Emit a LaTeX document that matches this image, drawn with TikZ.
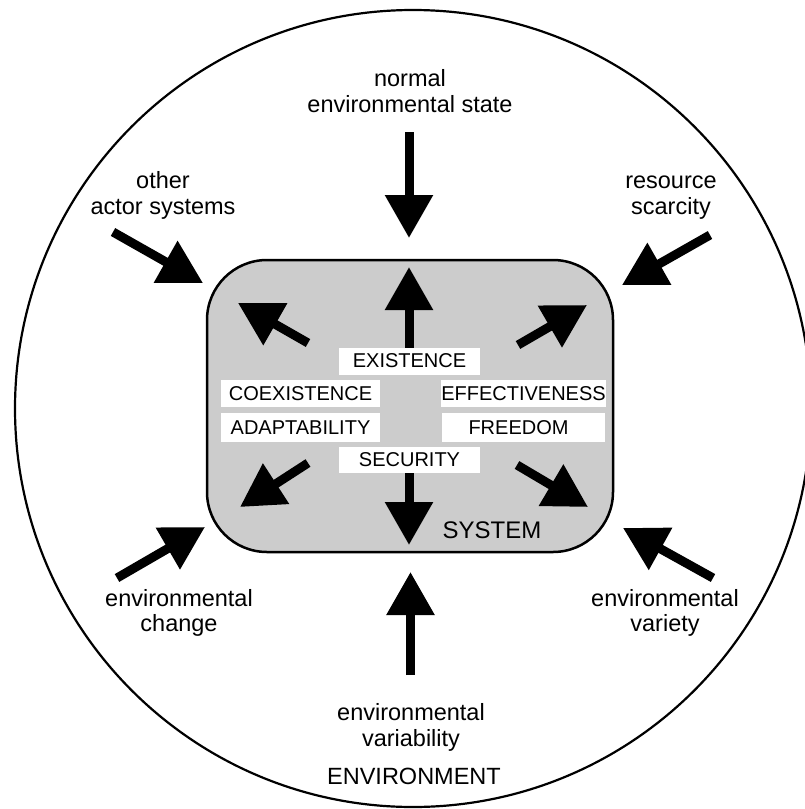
\documentclass[tikz,border=0pt]{standalone}
\usepackage{fontspec}
\setmainfont{Liberation Sans}
\usetikzlibrary{arrows.meta}
\definecolor{sysgray}{RGB}{204,204,204}
\begin{document}
\begin{tikzpicture}[x=1pt,y=-1pt,
  bigarrow/.style={line width=9pt,-{Triangle[width=46pt,length=43pt]}},
  lbl/.style={align=center,font=\fontsize{23.5}{25.5}\selectfont,inner sep=0pt},
  valbox/.style={fill=white,inner sep=0pt,font=\fontsize{20}{24}\selectfont,minimum height=27pt}
]
\useasboundingbox (0,0) rectangle (805,809);
\clip (0,0) rectangle (805,809);
% environment circle
\draw[line width=2.2pt] (413,408.5) ellipse (398pt and 398.5pt);
% system box
\node[draw,line width=2.5pt,fill=sysgray,rounded corners=60pt,minimum width=406pt,minimum height=292pt,inner sep=0pt] (sys) at (410,406) {};
% labels
\node[lbl] (ltop) at (410,91) {normal\\environmental state};
\node[lbl] (lother) at (163,195.5) {other\\actor systems};
\node[lbl] (lres) at (671,197.5) {resource\\scarcity};
\node[lbl] (lchg) at (179,613) {environmental\\change};
\node[lbl] (lvar) at (665,613) {environmental\\variety};
\node[lbl] (lvbl) at (411,727.5) {environmental\\variability};
\node[lbl] (lenv) at (414,776) {ENVIRONMENT};
\node[inner sep=0pt,font=\fontsize{24}{28}\selectfont] (syslbl) at (492,530) {SYSTEM};
% outer arrow coordinates
\coordinate (o1s) at (409,132);   \coordinate (o1e) at (409,238);
\coordinate (o2s) at (113,232);   \coordinate (o2e) at (203,283);
\coordinate (o3s) at (710,235);   \coordinate (o3e) at (622,285);
\coordinate (o4s) at (117,578);   \coordinate (o4e) at (205,527);
\coordinate (o5s) at (713,578);   \coordinate (o5e) at (623,528);
\coordinate (o6s) at (410.5,675); \coordinate (o6e) at (410.5,572);
\foreach \i in {1,...,6} {\draw[bigarrow] (o\i s) -- (o\i e);}
% inner arrow coordinates
\coordinate (i1s) at (409,352);   \coordinate (i1e) at (409,267);
\coordinate (i2s) at (409,468);   \coordinate (i2e) at (409,545);
\coordinate (i3s) at (308,343);   \coordinate (i3e) at (238,303);
\coordinate (i4s) at (518,345);   \coordinate (i4e) at (587,305);
\coordinate (i5s) at (308,463);   \coordinate (i5e) at (240,507);
\coordinate (i6s) at (517,465);   \coordinate (i6e) at (588,507);
\foreach \i in {1,...,6} {\draw[bigarrow] (i\i s) -- (i\i e);}
% value boxes
\node[valbox,minimum width=141pt] (exist) at (409.5,361) {EXISTENCE};
\node[valbox,minimum width=159pt] (coex) at (300.5,393.5) {COEXISTENCE};
\node[valbox,minimum width=163pt] (eff) at (523.5,393.5) {EFFECTIVENESS};
\node[valbox,minimum width=159pt,minimum height=29pt] (adapt) at (300.5,427.5) {ADAPTABILITY};
\node[valbox,minimum width=163pt,minimum height=29pt] (free) at (523.5,427.5) {\hspace*{-10pt}FREEDOM};
\node[valbox,minimum width=141pt,minimum height=26pt] (secu) at (409.5,460) {SECURITY};
\end{tikzpicture}
\end{document}
